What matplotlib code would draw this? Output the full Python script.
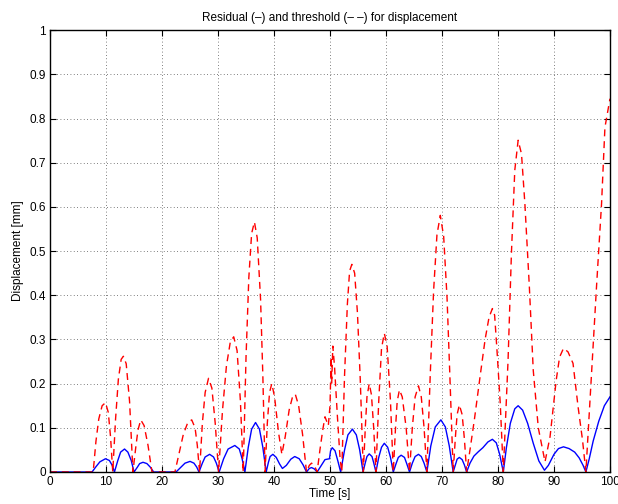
import matplotlib
matplotlib.use("Agg")
import matplotlib.pyplot as plt

# ---- residual (solid blue) ----
t_res = [0, 7.5, 8.2, 8.9, 9.9, 10.6, 11.1, 11.5,
         12.1, 12.6, 13.3, 13.9, 14.5, 15.0,
         15.6, 16.0, 16.6, 17.3, 17.9, 18.5, 22.5,
         23.3, 24.1, 25.0, 25.7, 26.2, 26.6,
         27.2, 27.7, 28.5, 29.2, 29.7, 30.2,
         31.0, 31.8, 33.0, 33.8, 34.3, 34.8,
         35.4, 36.0, 36.7, 37.4, 38.0, 38.6,
         39.0, 39.3, 39.8, 40.4, 41.0, 41.5,
         42.2, 43.0, 43.7, 44.5, 45.2, 45.8,
         46.3, 46.7, 47.2, 47.7, 48.3, 49.1, 49.9,
         50.1, 50.4, 50.9, 51.4, 51.9,
         52.6, 53.2, 54.0, 54.7, 55.3, 55.9,
         56.3, 56.6, 57.0, 57.5, 57.8, 58.2,
         58.7, 59.2, 59.7, 60.3, 60.8, 61.3,
         61.8, 62.2, 62.7, 63.3, 63.7, 64.2,
         64.7, 65.2, 65.8, 66.3, 66.8, 67.3,
         68.0, 68.8, 69.8, 70.6, 71.3, 72.0,
         72.4, 72.7, 73.1, 73.6, 74.0, 74.4,
         75.0, 75.7, 76.5, 77.3, 78.2, 79.0, 79.7, 80.3, 80.95,
         81.5, 82.2, 83.0, 83.6, 84.4, 85.3, 86.3, 87.3, 88.3,
         89.0, 90.0, 90.8, 91.7, 92.7, 93.7, 94.5, 95.2, 95.7,
         96.3, 97.0, 98.0, 99.0, 100]
r_res = [0, 0, 0.012, 0.023, 0.030, 0.026, 0.015, 0,
         0.026, 0.045, 0.052, 0.045, 0.026, 0,
         0.011, 0.019, 0.022, 0.019, 0.011, 0, 0,
         0.010, 0.020, 0.024, 0.020, 0.011, 0,
         0.020, 0.034, 0.040, 0.034, 0.020, 0,
         0.030, 0.052, 0.060, 0.052, 0.030, 0,
         0.056, 0.097, 0.112, 0.097, 0.056, 0,
         0.022, 0.035, 0.040, 0.033, 0.018, 0.008,
         0.015, 0.029, 0.035, 0.030, 0.016, 0,
         0.008, 0.010, 0.007, 0, 0.012, 0.028, 0.030,
         0.048, 0.055, 0.048, 0.025, 0,
         0.050, 0.084, 0.097, 0.084, 0.050, 0,
         0.021, 0.035, 0.041, 0.035, 0.021, 0,
         0.033, 0.056, 0.065, 0.056, 0.033, 0,
         0.019, 0.033, 0.038, 0.033, 0.019, 0,
         0.020, 0.035, 0.040, 0.035, 0.020, 0,
         0.059, 0.102, 0.118, 0.102, 0.059, 0,
         0.017, 0.029, 0.033, 0.028, 0.016, 0,
         0.020, 0.036, 0.046, 0.055, 0.068, 0.074, 0.066, 0.040, 0,
         0.055, 0.110, 0.143, 0.150, 0.140, 0.110, 0.065, 0.025, 0.004,
         0.015, 0.040, 0.053, 0.057, 0.053, 0.045, 0.032, 0.015, 0,
         0.030, 0.070, 0.115, 0.150, 0.170]

# ---- threshold (dashed red) ----
t_thr = [0, 7.7, 8.2, 8.7, 9.3, 9.9, 10.4, 10.8, 11.2,
         11.7, 12.2, 12.7, 13.1, 13.6, 14.2, 14.8,
         15.3, 15.7, 16.2, 16.8, 17.5, 18.2, 22.3,
         23.0, 23.8, 24.6, 25.3, 25.9, 26.3, 26.7,
         27.2, 27.7, 28.3, 28.9, 29.5, 30.1,
         30.8, 31.5, 32.2, 32.8, 33.4, 34.0, 34.5,
         35.0, 35.5, 36.0, 36.5, 37.0, 37.6, 38.0, 38.4,
         38.8, 39.2, 39.6, 40.1, 40.8, 41.4,
         42.0, 42.7, 43.3, 43.8, 44.4, 45.1, 45.8,
         46.3, 46.7, 47.2, 47.7, 48.2, 48.7, 49.1, 49.7,
         50.0, 50.2, 50.3, 50.5, 50.8, 51.3, 51.8, 52.1,
         52.6, 53.1, 53.5, 53.9, 54.4, 54.9, 55.4, 55.95,
         56.3, 56.6, 57.0, 57.4, 57.8, 58.2,
         58.7, 59.2, 59.7, 60.2, 60.8, 61.3,
         61.7, 62.0, 62.4, 62.9, 63.6, 64.2,
         64.7, 65.2, 65.8, 66.3, 66.8, 67.3,
         67.9, 68.5, 69.1, 69.7, 70.3, 70.9, 71.4, 72.0,
         72.4, 72.7, 73.1, 73.6, 74.0, 74.4,
         75.0, 75.8, 76.8, 77.7, 78.4, 79.0, 79.4, 79.8, 80.4, 80.95,
         81.8, 82.4, 83.0, 83.6, 84.2, 84.8, 85.6, 86.3, 87.2, 88.4,
         89.3, 90.4, 91.0, 91.7, 92.5, 93.4, 94.3, 95.1, 95.7,
         96.7, 97.6, 98.5, 99.1, 100]
r_thr = [0, 0, 0.070, 0.120, 0.150, 0.157, 0.135, 0.080, 0,
         0.120, 0.210, 0.255, 0.262, 0.245, 0.160, 0,
         0.055, 0.095, 0.118, 0.105, 0.060, 0, 0,
         0.040, 0.085, 0.112, 0.118, 0.100, 0.060, 0,
         0.110, 0.180, 0.212, 0.190, 0.110, 0,
         0.140, 0.240, 0.295, 0.306, 0.275, 0.160, 0,
         0.260, 0.440, 0.540, 0.566, 0.530, 0.390, 0.220, 0,
         0.110, 0.180, 0.200, 0.170, 0.090, 0.040,
         0.080, 0.140, 0.170, 0.176, 0.150, 0.085, 0,
         0.015, 0.020, 0.015, 0, 0.050, 0.095, 0.125, 0.105,
         0.150, 0.260, 0.200, 0.285, 0.240, 0.130, 0.030, 0,
         0.220, 0.380, 0.455, 0.470, 0.450, 0.360, 0.210, 0,
         0.100, 0.170, 0.200, 0.175, 0.100, 0,
         0.160, 0.280, 0.314, 0.285, 0.160, 0,
         0.100, 0.160, 0.186, 0.170, 0.100, 0,
         0.100, 0.170, 0.195, 0.170, 0.100, 0,
         0.220, 0.410, 0.537, 0.581, 0.533, 0.395, 0.220, 0,
         0.080, 0.130, 0.152, 0.130, 0.075, 0,
         0.050, 0.120, 0.216, 0.300, 0.350, 0.370, 0.355, 0.280, 0.156, 0,
         0.253, 0.495, 0.683, 0.751, 0.720, 0.608, 0.420, 0.230, 0.100, 0.023,
         0.080, 0.208, 0.260, 0.280, 0.272, 0.246, 0.148, 0.072, 0,
         0.223, 0.420, 0.608, 0.780, 0.845]

plt.rcParams["font.family"] = ["Liberation Sans", "DejaVu Sans"]

fig = plt.figure(figsize=(6.18, 5.04), dpi=100)
ax = fig.add_axes([0.081, 0.0635, 0.906, 0.8765])

ax.plot(t_res, r_res, color="#0000ff", lw=1.0)
ax.plot(t_thr, r_thr, color="#ff0000", lw=1.0, linestyle=(0, (5, 3.5)))

ax.set_xlim(0, 100)
ax.set_ylim(0, 1)
ax.set_xticks(range(0, 101, 10))
ax.set_yticks([i / 10 for i in range(11)])
ax.set_yticklabels(["0"] + [f"{i / 10:g}" for i in range(1, 10)] + ["1"])
ax.grid(True, linestyle=(0, (1, 3)), color="#555555", lw=0.6)
ax.tick_params(direction="in", top=True, right=True, labelsize=8.5,
               length=4, width=0.8, pad=3)
for s in ax.spines.values():
    s.set_linewidth(1.0)

ax.set_title("Residual (\u2013) and threshold (\u2013 \u2013) for displacement",
             fontsize=8.5, pad=7)
ax.set_xlabel("Time [s]", fontsize=8.5, labelpad=0)
ax.set_ylabel("Displacement [mm]", fontsize=8.5, labelpad=4)

fig.savefig("out.png", dpi=100)
